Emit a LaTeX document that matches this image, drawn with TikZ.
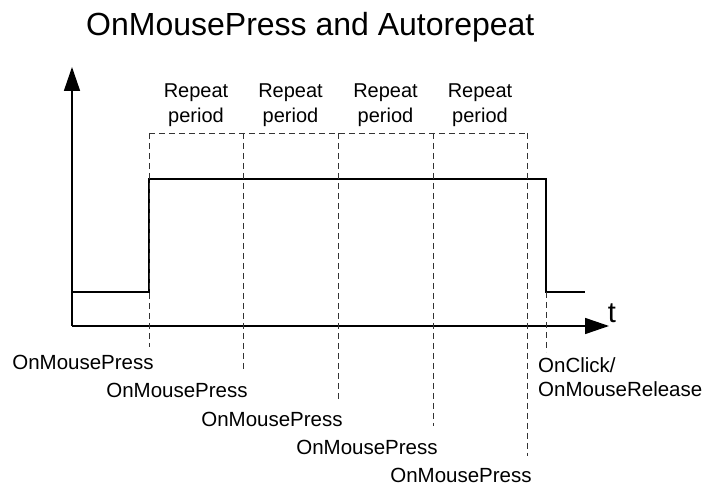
\documentclass[tikz,border=0pt]{standalone}
\usepackage{fontspec}
\setmainfont{Liberation Sans}
\usetikzlibrary{arrows.meta}
\begin{document}
\begin{tikzpicture}[x=1pt, y=-1pt,
    axis/.style={line width=1.6pt, -{Triangle[length=24pt,width=16pt]}},
    signal/.style={line width=2.8pt},
    guide/.style={black!80, line width=0.8pt, dash pattern=on 6pt off 4pt},
    event/.style={font=\fontsize{20.5}{24}\selectfont, inner sep=0pt},
    period/.style={font=\fontsize{20}{25}\selectfont, align=center, inner sep=0pt}]
    \useasboundingbox (0,0) rectangle (710,486);

    % Title
    \node[anchor=base west, inner sep=0pt, font=\fontsize{32}{36}\selectfont] (title) at (86,36) {OnMousePress and Autorepeat};

    % Axes
    \coordinate (origin) at (72,326);
    \coordinate (ytip) at (72,67);
    \coordinate (xtip) at (609,326);
    \draw[axis] (origin) -- (ytip);
    \draw[axis] (origin) -- (xtip);
    \node[anchor=base, inner sep=0pt, font=\fontsize{29}{34}\selectfont] (t) at (612,323) {t};

    % Button signal
    \coordinate (s0) at (72,292);
    \coordinate (s1) at (149,292);
    \coordinate (s2) at (149,179);
    \coordinate (s3) at (546,179);
    \coordinate (s4) at (546,292);
    \coordinate (s5) at (585,292);
    \draw[signal] (s0) -- (s1) -- (s2) -- (s3) -- (s4) -- (s5);

    % Repeat periods and press events
    \foreach \i/\x/\e in {0/149/347, 1/243/372, 2/338/402, 3/433/426, 4/527/456} {
        \coordinate (top\i) at (\x,133);
        \coordinate (end\i) at (\x,\e);
        \draw[guide] (top\i) -- (end\i);
        \node[event, anchor=base] (press\i) at (\x-66, 370+28*\i) {OnMousePress};
    }
    \draw[guide] (top0) -- (top4);
    \foreach \i/\x in {0/196, 1/290.5, 2/385.5, 3/480} {
        \node[period, anchor=north] (period\i) at (\x,84) {Repeat\\period};
    }

    % Release event
    \coordinate (relend) at (546,352);
    \draw[guide] (s4) -- (relend);
    \node[event, anchor=base west] (click) at (538,373) {OnClick/};
    \node[event, anchor=base west] (release) at (538,397) {OnMouseRelease};
\end{tikzpicture}
\end{document}
